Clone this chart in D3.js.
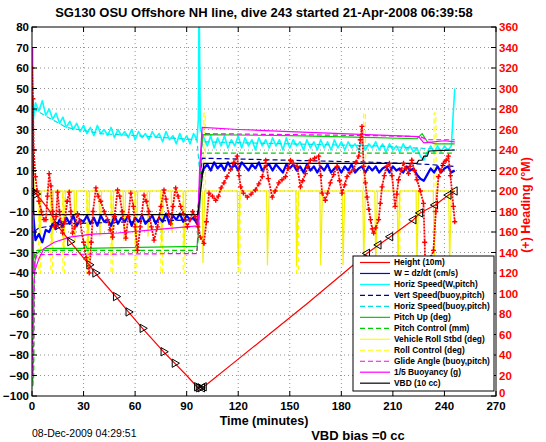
<!DOCTYPE html>
<html><head><meta charset="utf-8">
<script src="https://cdn.jsdelivr.net/npm/d3@7"></script>
<style>body{margin:0;background:#fff}svg{display:block}text{font-family:"Liberation Sans",Arial,Helvetica,sans-serif}</style>
</head><body><svg id="c" width="546" height="442"></svg>
<script>
// ---------------- DATA ----------------
const titleText = "SG130 OSU Offshore NH line, dive 243 started 21-Apr-2008 06:39:58";
const xTicks = [0,30,60,90,120,150,180,210,240,270];
const yTicks = [-100,-90,-80,-70,-60,-50,-40,-30,-20,-10,0,10,20,30,40,50,60,70,80];
const y2Ticks = [0,20,40,60,80,100,120,140,160,180,200,220,240,260,280,300,320,340,360];

// time grids (minutes) for the noisy series
const gridDescent = [0,2,4,6,8,10,12,14,16,18,20,22,24,26,28,30,32,34,36,38,40,42,44,46,48,50,52,54,56,58,60,62,64,66,68,70,72,74,76,78,80,82,84,86,88,90,92,94,96];
const gridAscent = [98,100,102,104,106,108,110,112,114,116,118,120,122,124,126,128,130,132,134,136,138,140,142,144,146,148,150,152,154,156,158,160,162,164,166,168,170,172,174,176,178,180,182,184,186,188,190,192,194,196,198,200,202,204,206,208,210,212,214,216,218,220,222,224,226,228,230,232,234,236,238,240,242,244,246];

// W = dz/dt (cm/s)
const wDescent = [-4,-24,-21,-25,-19,-20,-16,-18,-14,-17,-13,-16,-12,-17,-14,-15,-12,-16,-13,-17,-12,-15,-14,-17,-12,-16,-13,-15,-12,-17,-13,-15,-12,-16,-14,-12,-16,-13,-15,-11,-16,-12,-14,-11,-15,-12,-14,-13,-16];
const wTurn = [[97,-12],[97.5,-2]];
const wAscent = [6,11,13,10,14,11,13,10,14,11,13,10,14,12,10,13,11,14,10,12,13,10,13,11,9,13,11,13,10,12,9,13,10,12,9,12,10,13,9,11,12,9,12,10,13,9,11,12,9,12,10,12,9,11,12,9,12,10,11,9,12,10,11,8,6,5,8,11,9,12,9,11,12,9,10];

// Horiz Speed (W,pitch)
const hsDescent = [30,43,39,44,37,40,35,38,33,36,31,34,30,33,29,32,28,31,27,32,28,30,27,31,26,30,27,29,26,30,25,29,26,28,25,29,26,28,24,29,25,27,23,28,24,27,23,28,25];
const hsSpike = [[96.8,35],[97.2,95],[97.6,60],[97.9,32]];
const hsAscent = [30,26,22,27,21,26,22,27,21,25,22,27,21,26,22,25,20,26,22,25,21,26,22,25,20,26,21,25,22,24,20,25,21,24,20,25,21,24,20,25,21,24,20,24,21,23,20,24,20,23,21,24,20,23,19,23,20,22,19,23,20,22,19,21,17,15,19,22,19,22,19,22,20,22,50];

// smooth series: [time, value]
const vertSpeedBuoy = [[0,-5],[1,-20],[4,-18],[20,-16],[60,-15],[96,-14],[97.5,0],[99,16],[150,15],[200,14],[230,13],[246,12]];
const horizSpeedBuoy = [[0,20],[1,40],[5,38],[20,31],[40,28],[60,27],[96,25],[97.5,10],[99,24],[150,23],[200,22],[246,20]];
const pitchUp = [[0,0],[0.3,-40],[0.7,-70],[1.2,-45],[2,-31],[5,-29],[8,-28],[30,-28],[31,-26],[32,-28],[60,-27.5],[61,-26],[62,-27.5],[96,-27],[97,-20],[98.5,20],[99.5,27.5],[150,27],[200,26],[224,25.5],[227,28],[230,24],[235,23],[246,23]];
const pitchControl = [[0,-5],[0.5,-95],[1,-90],[1.5,-30],[3,-29],[96,-29],[97,-20],[98.5,18.5],[246,18.5]];
const vehicleRoll = [[0,0],[0.3,60],[0.7,20],[1.2,0],[4,0],[4.5,-22],[5.5,0],[11,0],[11.5,-25],[12.5,0],[18,0],[18.5,-28],[19.5,0],[24.5,0],[25,-25],[26,0],[32,0],[32.5,-35],[33.5,0],[39,0],[39.5,-22],[40.5,0],[46,0],[46.5,-26],[47.5,0],[53,0],[53.5,-24],[54.5,0],[60,0],[60.5,-30],[61.5,0],[67,0],[67.5,-22],[68.5,0],[75,0],[75.5,-25],[76.5,0],[81,0],[81.5,-20],[82.5,0],[88,0],[88.5,-28],[89.5,0],[99,0],[99.5,-35],[100.5,0],[119.5,0],[120,-36],[121,0],[136.5,0],[137,-36],[138,0],[153.5,0],[154,-36],[155,0],[167.5,0],[168,-36],[169,0],[180.5,0],[181,-36],[182,0],[192.5,0],[193,-36],[194,0],[199.5,0],[200,-36],[201,0],[212.5,0],[213,-36],[214,0],[223.5,0],[224,-36],[225,0],[233.5,0],[234,-36],[235,0],[242.5,0],[243,-36],[244,0],[246,0]];
const rollControl = [[0,0],[3.8,0],[4,-40],[5,-40],[5.2,0],[10.8,0],[11,-40],[12,-40],[12.2,0],[17.8,0],[18,-40],[19,-40],[19.2,0],[31.8,0],[32,-40],[33,-40],[33.2,0],[45.8,0],[46,-40],[47,-40],[47.2,0],[59.8,0],[60,-40],[61,-40],[61.2,0],[74.8,0],[75,-40],[76,-40],[76.2,0],[87.8,0],[88,-40],[89,-40],[89.2,0],[99.8,0],[100,38],[100.8,38],[101,0],[119.8,0],[120,-40],[121,-40],[121.2,0],[153.8,0],[154,-40],[155,-40],[155.2,0],[192.8,0],[193,38],[194,38],[194.2,0],[212.8,0],[213,-40],[214,-40],[214.2,0],[233.8,0],[234,38],[235,38],[235.2,0],[246,0]];
const glideAngle = [[0,-10],[0.4,-90],[0.8,-85],[1.5,-35],[3,-31],[96,-30.5],[97.5,0],[99,28],[150,27.5],[200,27],[226,26.5],[230,25],[246,25]];
const buoyancy = [[0,70],[0.4,70],[0.9,-40],[2,-38],[4,-33],[7,-28],[13,-25],[22,-22.5],[35,-21],[50,-20.5],[70,-19],[90,-17.5],[96.5,-17],[97.5,10],[99,31],[120,30],[150,29],[180,28],[210,27],[225,26.5],[228,23.5],[240,24.5],[246,24]];
const vbd = [[0,45],[0.5,45],[1,-11.5],[96.5,-11.5],[100,13.5],[224,13.5],[225,15],[227,15],[228,17],[230,17],[231,19.5],[246,20]];
const heightDescent = [[0,0],[1,-0.5],[2.3,-1.5],[5,-4],[10,-9.5],[14.9,-17],[22.2,-24.7],[33.3,-36],[36.8,-40],[48.8,-51.5],[56.1,-59],[64.3,-67],[76.5,-78.4],[83,-84],[90,-90],[96,-95.5],[98,-96]];
const heightAscent = [[98,-96],[100,-95.5],[120,-82],[140,-68.5],[160,-55],[180,-41],[195,-30.4],[201.7,-26.3],[208.5,-22.3],[222,-14],[225.9,-10.7],[234.6,-6.8],[242.4,-2],[246,0]];
const markersDescent = [[0,0],[1,-0.5],[2.3,-1.5],[14.9,-17],[22.2,-24.7],[33.3,-36],[36.8,-40],[48.8,-51.5],[56.1,-59],[64.3,-67],[76.5,-78.4],[83,-84],[96,-95.5],[97,-96],[98,-96]];
const markersAscent = [[99,-96],[100,-95.5],[195,-30.4],[201.7,-26.3],[208.5,-22.3],[222,-14],[225.9,-10.7],[234.6,-6.8],[242.4,-2],[246,0]];
// Heading (deg, right axis)
const heading = [[0,320],[0.5,290],[1,240],[2,214],[3,200],[4,190],[5.5,180],[7,172],[8.1,172],[9,195],[10,217],[11,205],[12,180],[13,165],[14,175],[14.9,199],[16,180],[17.8,159],[19,170],[20.5,190],[21.7,199],[22.6,180],[23.6,159],[25,165],[26.5,178],[28,170],[30,150],[31.5,135],[33.3,120],[34.5,150],[35.5,180],[37.2,203],[38.5,195],[40,190],[42,180],[44,172],[45.5,162],[46.9,155],[48,175],[49.8,201],[51,195],[52.5,180],[54.6,154],[56,175],[57.5,198],[59,185],[60,165],[61.4,142],[63,165],[65.2,196],[66.5,190],[68,180],[69.5,165],[71,152],[73,165],[75,185],[76.8,201],[78,192],[79.5,178],[80.7,168],[82,185],[83.6,203],[85,195],[86.5,185],[88,178],[90.4,165],[92,172],[93.5,180],[95,175],[96.5,165],[98,155],[100,149],[101.5,170],[103,198],[105,195],[106.9,191],[108.5,195],[110,203],[111.7,208],[113.5,214],[115.6,221],[117.5,228],[119.4,234],[120.5,215],[121.4,204],[123,198],[125.3,194],[127.5,197],[130,201],[132,207],[134,214],[136,230],[137.5,212],[139.8,194],[141.5,200],[143.6,208],[145.5,211],[147.5,214],[149,222],[150.4,230],[152,227],[154.3,224],[156.2,204],[157.5,210],[159.1,217],[160.5,224],[162,230],[164.5,232],[166.8,234],[168,215],[168.8,198],[170.7,191],[172,198],[173.6,208],[175.5,216],[177.5,224],[179,210],[180.4,198],[182,206],[183.3,214],[185,218],[187.2,221],[188.5,228],[190.1,234],[191,250],[192,263],[193,224],[194,208],[195,194],[196,182],[197,172],[198,163],[198.8,159],[200,164],[201.7,172],[202.7,188],[203.7,204],[205,215],[206.6,224],[208,227],[209.5,215],[211.3,185],[212.3,197],[213.3,211],[214.8,220],[216.2,227],[217.5,222],[219.1,217],[220,224],[221,230],[222.5,220],[224,211],[226,200],[227.8,188],[228.5,150],[229.2,100],[229.8,85],[230.7,120],[232,135],[233.6,142],[235,180],[236.5,214],[238,220],[239.4,227],[241,230],[242.3,234],[243.5,215],[245.2,185],[246,170]];

const legendItems = [
 ["Height (10m)","#ff0000",false],
 ["W = dz/dt (cm/s)","#0000ff",false],
 ["Horiz Speed(W,pitch)","#00ffff",false],
 ["Vert Speed(buoy,pitch)","#0000a0",true],
 ["Horiz Speed(buoy,pitch)","#00e0e0",true],
 ["Pitch Up (deg)","#00cc00",false],
 ["Pitch Control (mm)","#00cc00",true],
 ["Vehicle Roll Stbd (deg)","#ffff00",false],
 ["Roll Control (deg)","#ffff00",true],
 ["Glide Angle (buoy,pitch)","#ff00ff",true],
 ["1/5 Buoyancy (g)","#ff00ff",false],
 ["VBD (10 cc)","#000000",false]
];

// ---------------- CHART ----------------
const svg = d3.select("#c");
const m = {l:32, r:496, t:27, b:396};
const x = d3.scaleLinear().domain([0,270]).range([m.l,m.r]);
const y = d3.scaleLinear().domain([-100,80]).range([m.b,m.t]);
const y2 = d3.scaleLinear().domain([0,360]).range([m.b,m.t]);

svg.append("rect").attr("width",546).attr("height",442).attr("fill","#fff");
svg.append("defs").append("clipPath").attr("id","clip").append("rect")
  .attr("x",m.l).attr("y",m.t).attr("width",m.r-m.l).attr("height",m.b-m.t);

// grid
const grid = svg.append("g").attr("stroke","#777").attr("stroke-width",0.8).attr("stroke-dasharray","1,3");
xTicks.slice(1,-1).forEach(t=>grid.append("line").attr("x1",x(t)).attr("x2",x(t)).attr("y1",m.t).attr("y2",m.b));
yTicks.slice(1,-1).forEach(t=>grid.append("line").attr("y1",y(t)).attr("y2",y(t)).attr("x1",m.l).attr("x2",m.r));

const plot = svg.append("g").attr("clip-path","url(#clip)");
const line = d3.line().x(d=>x(d[0])).y(d=>y(d[1]));
const zip = (g,v)=>g.map((t,i)=>[t,v[i]]);
function draw(data,color,w,dash){
  plot.append("path").datum(data).attr("d",line).attr("fill","none")
    .attr("stroke",color).attr("stroke-width",w).attr("stroke-linejoin","round")
    .attr("stroke-dasharray",dash?"5,3":null);
}
// order of drawing
draw(rollControl,"#ffff00",1.2,true);
draw(vehicleRoll,"#f4f000",1.2,false);
const cyanSeries = zip(gridDescent,hsDescent).concat(hsSpike,zip(gridAscent,hsAscent));
draw(cyanSeries,"#00ffff",1.6,false);
draw(horizSpeedBuoy,"#00e0e0",1.2,true);
const wSeries = zip(gridDescent,wDescent).concat(wTurn,zip(gridAscent,wAscent));
draw(wSeries,"#0000ff",2.2,false);
draw(vertSpeedBuoy,"#0000a0",1.2,true);
draw(pitchUp,"#00cc00",1.2,false);
draw(pitchControl,"#00cc00",1.2,true);
draw(glideAngle,"#ff00ff",1.2,true);
draw(buoyancy,"#ff00ff",1.2,false);
draw(vbd,"#000000",1.2,false);
draw(heightDescent.concat(heightAscent.slice(1)),"#ff0000",1.2,false);

// triangle markers
const triR = d3.symbol().type(d3.symbolTriangle).size(30);
markersDescent.forEach(d=>plot.append("path").attr("d",triR()).attr("transform",`translate(${x(d[0])},${y(d[1])}) rotate(90)`).attr("fill","none").attr("stroke","#000").attr("stroke-width",1));
markersAscent.forEach(d=>plot.append("path").attr("d",triR()).attr("transform",`translate(${x(d[0])},${y(d[1])}) rotate(-90)`).attr("fill","none").attr("stroke","#000").attr("stroke-width",1));

// heading (right axis)
const line2 = d3.line().x(d=>x(d[0])).y(d=>y2(d[1]));
plot.append("path").datum(heading).attr("d",line2).attr("fill","none").attr("stroke","#ff0000").attr("stroke-width",1.8).attr("stroke-dasharray","2,1");
plot.selectAll(".hp").data(heading).enter().append("path")
  .attr("d","M-2.5,0H2.5M0,-2.5V2.5").attr("transform",d=>`translate(${x(d[0])},${y2(d[1])})`)
  .attr("stroke","#ff0000").attr("stroke-width",1.3);

// box and axes
svg.append("rect").attr("x",m.l).attr("y",m.t).attr("width",m.r-m.l).attr("height",m.b-m.t).attr("fill","none").attr("stroke","#000").attr("stroke-width",1);
const ax = svg.append("g").attr("stroke","#000").attr("stroke-width",1);
xTicks.forEach(t=>{ax.append("line").attr("x1",x(t)).attr("x2",x(t)).attr("y1",m.b).attr("y2",m.b-5);
  ax.append("line").attr("x1",x(t)).attr("x2",x(t)).attr("y1",m.t).attr("y2",m.t+5);});
yTicks.forEach(t=>ax.append("line").attr("x1",m.l).attr("x2",m.l+5).attr("y1",y(t)).attr("y2",y(t)));
y2Ticks.forEach(t=>ax.append("line").attr("x1",m.r).attr("x2",m.r-5).attr("y1",y2(t)).attr("y2",y2(t)));

const lab = svg.append("g").attr("font-size","11.5px").attr("font-weight","bold");
xTicks.forEach(t=>lab.append("text").attr("x",x(t)).attr("y",m.b+14).attr("text-anchor","middle").text(t));
yTicks.forEach(t=>lab.append("text").attr("x",m.l-3).attr("y",y(t)).attr("dy","0.35em").attr("text-anchor","end").text(t<0?"\u2212"+(-t):t));
y2Ticks.forEach(t=>lab.append("text").attr("x",m.r+3).attr("y",y2(t)).attr("dy",t===0?"0.1em":"0.35em").attr("fill","#ff0000").text(t));

svg.append("text").attr("x",(m.l+m.r)/2).attr("y",17).attr("text-anchor","middle").attr("font-size","13px").attr("font-weight","bold").text(titleText);
svg.append("text").attr("x",(m.l+m.r)/2).attr("y",425).attr("text-anchor","middle").attr("font-size","12.5px").attr("font-weight","bold").text("Time (minutes)");
svg.append("text").attr("x",358).attr("y",440).attr("text-anchor","middle").attr("font-size","13px").attr("font-weight","bold").text("VBD bias =0 cc");
svg.append("text").attr("x",32).attr("y",437).attr("font-size","10.5px").text("08-Dec-2009 04:29:51");
svg.append("text").attr("transform","translate(530,205) rotate(-90)").attr("text-anchor","middle").attr("font-size","12.5px").attr("font-weight","bold").attr("fill","#ff0000").text("(+) Heading (\u00B0M)");

// legend
const lg = svg.append("g");
lg.append("rect").attr("x",353).attr("y",256).attr("width",141).attr("height",135).attr("fill","#fff").attr("stroke","#000").attr("stroke-width",1);
legendItems.forEach((it,i)=>{
  const yy = 262.5 + i*10.97;
  lg.append("line").attr("x1",360).attr("x2",390).attr("y1",yy).attr("y2",yy).attr("stroke",it[1]).attr("stroke-width",1.2).attr("stroke-dasharray",it[2]?"5,3":null);
  lg.append("text").attr("x",394).attr("y",yy).attr("dy","0.35em").attr("font-size","8.4px").attr("font-weight","bold").text(it[0]);
});
</script></body></html>
